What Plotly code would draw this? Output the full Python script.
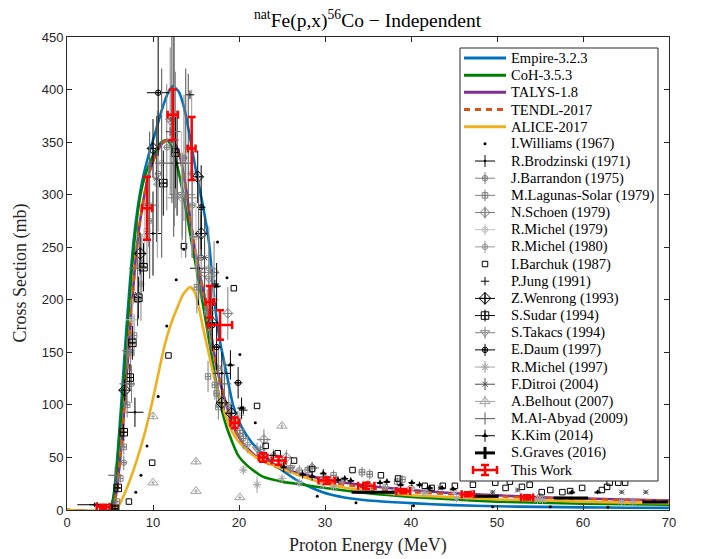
import plotly.graph_objects as go

INK = "#262626"
GREY = "#808080"
LIGHT = "#bfbfbf"
DARK = "#4d4d4d"

# ---------------- model calculations (E in MeV, sigma in mb) ----------------
E_empire = [0, 4.8, 5.3, 5.8, 6.3, 6.8, 7.3, 7.8, 8.3, 8.8, 9.5, 10.3, 11.0, 11.7, 12.3,
            13.0, 13.7, 14.4, 15.1, 15.8, 16.5, 17.2, 17.8, 18.6, 19.3, 20.3, 21.5, 22.7,
            24.0, 25.5, 27.0, 28.5, 30.5, 33.0, 36.0, 40.0, 45.0, 50.0, 55.0, 60.0, 65.0, 70.0]
S_empire = [0, 0, 8, 45, 100, 160, 215, 260, 292, 315, 338, 360, 380, 396, 403,
            398, 380, 350, 318, 290, 255, 195, 160, 128, 100, 79, 64, 54,
            44, 35, 27, 21, 15, 11, 8.5, 6.5, 4.6, 3.5, 3.0, 2.5, 2.2, 2.0]

E_coh = [0, 5.0, 5.3, 5.6, 6.0, 6.5, 7.0, 7.5, 8.0, 8.5, 9.0, 9.6, 10.3, 11.0, 11.6,
         12.2, 12.8, 13.4, 14.0, 14.7, 15.5, 16.3, 17.2, 17.8, 18.6, 19.9, 21.0, 22.7,
         25.0, 27.5, 30.0, 35.0, 40.0, 45.0, 50.0, 55.0, 60.0, 65.0, 70.0]
S_coh = [0, 0, 8, 22, 60, 110, 170, 225, 268, 298, 316, 330, 342, 350, 352,
         345, 328, 305, 278, 245, 210, 172, 128, 102, 78, 52, 42, 32,
         27, 24, 21, 16, 12.5, 10, 8, 7, 6, 5.5, 5]

E_talys = [0, 5.2, 5.5, 5.8, 6.2, 6.6, 7.0, 7.5, 8.0, 8.5, 9.0, 9.6, 10.3, 11.0, 11.7,
           12.4, 13.0, 13.6, 14.2, 14.8, 15.5, 16.3, 17.4, 18.6, 19.5, 20.5, 22.0, 24.0,
           26.0, 28.0, 30.0, 35.0, 40.0, 45.0, 50.0, 55.0, 60.0, 65.0, 70.0]
S_talys = [0, 0, 6, 20, 50, 90, 135, 190, 240, 275, 300, 322, 338, 348, 352,
           350, 340, 318, 285, 252, 222, 190, 136, 98, 77, 63, 51, 43,
           37, 33, 29, 23, 19, 16, 14, 12, 11, 10, 9]

E_tendl = [0, 5.2, 5.5, 5.8, 6.2, 6.6, 7.0, 7.5, 8.0, 8.5, 9.0, 9.6, 10.3, 11.0, 11.7,
           12.4, 13.0, 13.6, 14.2, 14.8, 15.5, 16.3, 17.4, 18.6, 19.5, 20.5, 22.0, 24.0,
           26.0, 28.0, 30.0, 35.0, 40.0, 45.0, 50.0, 55.0, 60.0, 65.0, 70.0]
S_tendl = [0, 0, 6, 20, 50, 90, 135, 190, 240, 275, 300, 322, 338, 348, 352,
           350, 340, 318, 285, 252, 222, 190, 136, 98, 76, 62, 50, 42,
           36, 31, 27, 21, 17, 15, 13, 11.5, 10.5, 9.5, 9]

E_alice = [0, 5.5, 6.0, 6.5, 7.3, 8.1, 9.0, 9.7, 10.5, 11.3, 12.0, 12.8, 13.5, 14.3,
           14.8, 15.2, 15.8, 16.4, 17.0, 18.1, 19.3, 20.5, 22.0, 24.5, 27.0, 30.0,
           35.0, 40.0, 45.0, 50.0, 55.0, 60.0, 65.0, 70.0]
S_alice = [0, 0, 4, 12, 28, 47, 72, 95, 125, 155, 175, 192, 205, 212,
           208, 198, 174, 152, 130, 98, 73, 60, 50, 41, 33, 25,
           18, 14, 12, 10, 9, 8, 7, 6.5]

# ---------------- experimental data ----------------
E_williams = [8.0, 8.6, 9.3, 10.6, 11.6, 12.7, 13.6, 17.5, 18.6, 20.1, 21.9, 29.1, 33.6,
              40.3, 49.5, 56.2, 62.9]
S_williams = [17, 33, 61, 108, 175, 219, 248, 255, 221, 148, 83, 13, 7, 4, 3, 3, 2.5]

E_brodz = [3.2, 7.9, 10.0, 12.8, 15.3, 18.0]
S_brodz = [5, 93, 263, 330, 230, 130]
dE_brodz = [2.0, 1.0, 1.0, 1.0, 1.0, 1.0]
dS_brodz = [2, 14, 40, 50, 35, 20]

E_barr = [6.6, 7.5, 8.6, 9.6, 10.6, 11.6, 12.6, 13.6, 14.6, 15.6, 16.6, 17.6, 18.8,
          20.5, 23.0, 26.0, 30.0, 35.0, 40.0]
S_barr = [45, 120, 215, 275, 320, 345, 352, 335, 290, 240, 180, 135, 100, 68, 52, 40,
          31, 25, 21]
dE_barr = [0.4, 0.4, 0.4, 0.4, 0.4, 0.4, 0.4, 0.4, 0.4, 0.4, 0.4, 0.4, 0.4, 0.4, 0.5,
           0.5, 0.5, 0.5, 0.5]
dS_barr = [7, 18, 35, 45, 55, 60, 65, 60, 50, 40, 28, 20, 15, 10, 7, 5, 4, 3, 3]

E_lagunas = [5.8, 6.2, 6.6, 7.0, 7.4, 7.8, 8.2, 8.7, 9.3, 15.1, 16.3, 16.4, 17.2, 17.4,
             17.6, 19.2, 20.1, 22.5, 25.0, 28.0, 31.0, 34.3, 35.2, 38.4, 39.0]
S_lagunas = [8, 30, 60, 100, 150, 166, 200, 235, 265, 212, 188, 127, 119, 111, 98, 86,
             73, 55, 45, 38, 33, 36, 34, 27, 29]
dE_lagunas = [0.3, 0.3, 0.3, 0.3, 0.3, 0.3, 0.3, 0.3, 0.3, 0.3, 0.3, 0.3, 0.3, 0.3,
              0.3, 0.3, 0.3, 0.4, 0.4, 0.4, 0.4, 0.4, 0.4, 0.4, 0.4]
dS_lagunas = [1, 4, 7, 12, 18, 20, 24, 28, 32, 25, 22, 15, 14, 13, 12, 10, 9, 7, 6, 5,
              5, 5, 5, 4, 4]

E_schoen = [13.4, 16.0, 17.1, 18.7, 22.9, 25.5, 28.5]
S_schoen = [297, 226, 226, 187, 67, 50, 40]
dE_schoen = [1.7, 0.6, 0.6, 0.6, 0.8, 0.8, 0.8]
dS_schoen = [40, 30, 30, 25, 10, 7, 6]

E_michel79 = [7.6, 9.0, 11.0, 13.3, 15.0, 17.0, 20.0, 25.0, 30.0, 35.0, 40.0, 45.0]
S_michel79 = [181, 260, 330, 300, 260, 200, 90, 45, 30, 24, 20, 18]
dE_michel79 = [0.8, 0.7, 0.7, 0.7, 0.7, 0.7, 0.7, 0.7, 0.7, 0.7, 0.7, 0.7]
dS_michel79 = [20, 30, 60, 60, 35, 25, 10, 5, 4, 3, 3, 2]

E_michel80 = [8.5, 10.5, 12.5, 14.5, 16.5, 21.0, 24.0, 27.0, 32.0, 37.0, 42.0, 47.0, 55.0]
S_michel80 = [230, 310, 360, 320, 230, 62, 52, 38, 28, 22, 19, 16, 13]
dE_michel80 = [0.5, 0.5, 0.5, 0.5, 0.5, 0.5, 0.5, 0.5, 0.5, 0.5, 0.5, 0.5, 0.5]
dS_michel80 = [30, 70, 90, 80, 40, 8, 6, 5, 4, 3, 3, 2, 2]

E_barchuk = [5.6, 7.2, 9.9, 11.8, 13.6, 19.4, 22.1, 23.1, 24.5, 26.4, 28.5, 33.2, 36.5,
             38.5, 41.6, 42.4, 43.7, 45.1, 47.2, 49.8, 51.0, 51.5, 52.9, 53.8, 55.2,
             56.2, 57.6, 58.5, 59.9, 62.2, 62.8, 63.1, 64.1, 64.9]
S_barchuk = [1, 8, 45, 147, 251, 211, 99, 61, 54, 47, 39, 38, 33, 30, 23, 21, 23, 23,
             24, 26, 21, 27, 22, 24, 17, 19, 17, 18, 21, 19, 22, 26, 26, 26]

E_jung = [12.0, 14.3, 17.2, 20.5, 24.0]
S_jung = [360, 395, 215, 95, 52]

E_wenrong = [6.7, 8.5, 10.0, 15.2, 15.6, 16.9, 18.0, 19.1]
S_wenrong = [114, 244, 344, 317, 263, 178, 102, 92]
dE_wenrong = [0.3, 0.3, 0.3, 0.3, 0.3, 0.3, 0.3, 0.3]
dS_wenrong = [10, 20, 28, 25, 21, 15, 9, 8]

E_sudar = [5.6, 5.9, 6.6, 7.3, 7.6, 8.3, 8.9, 11.2, 12.6]
S_sudar = [1, 21, 74, 126, 159, 202, 231, 311, 340]
dE_sudar = [0.3, 0.3, 0.3, 0.3, 0.3, 0.3, 0.3, 0.3, 0.3]
dS_sudar = [0.3, 3, 8, 13, 16, 20, 23, 31, 34]

E_takacs = [7.0, 9.5, 12.0, 13.4, 16.5, 19.8, 22.1, 26.0, 30.0]
S_takacs = [150, 290, 370, 300, 220, 85, 58, 40, 30]
dE_takacs = [0.4, 0.4, 0.4, 1.5, 0.4, 0.4, 0.4, 0.4, 0.4]
dS_takacs = [15, 40, 70, 40, 25, 9, 6, 4, 3]

E_daum = [10.6, 15.6, 16.9, 17.4, 19.9]
S_daum = [397, 288, 176, 155, 121]
dE_daum = [1.3, 0.5, 0.5, 0.5, 0.5]
dS_daum = [60, 40, 25, 22, 15]

E_michel97 = [20.5, 22.1, 25.0, 27.0, 29.8, 31.0, 35.0, 38.0, 41.5, 45.3, 46.5, 54.7,
              55.3, 64.5, 65.8]
S_michel97 = [38, 24, 30, 26, 24, 22, 19, 17, 16, 11, 13, 9.5, 9.5, 8, 8]
dE_michel97 = [0.3, 0.3, 0.3, 0.3, 0.3, 0.3, 0.3, 0.3, 0.3, 0.3, 0.3, 0.3, 0.3, 0.3, 0.3]
dS_michel97 = [4, 8, 3, 3, 3, 2, 2, 2, 2, 1, 1, 1, 1, 1, 1]

E_ditroi = [8.2, 10.4, 12.2, 14.1, 16.0, 43.4, 49.5, 52.4, 64.5, 67.3]
S_ditroi = [205, 315, 372, 345, 240, 21, 17, 19, 17, 17]
dE_ditroi = [0.4, 0.4, 0.4, 0.4, 0.4, 0.3, 0.3, 0.3, 0.3, 0.3]
dS_ditroi = [30, 60, 80, 70, 40, 2, 2, 2, 2, 2]

E_belhout = [10.0, 10.0, 15.0, 15.0, 20.1, 25.0]
S_belhout = [89, 26, 46, 18, 12, 80]
dE_belhout = [0.2, 0.2, 0.2, 0.2, 0.2, 0.2]
dS_belhout = [3, 2, 3, 2, 2, 3]

E_alabyad = [5.6, 6.9, 8.2, 9.6, 11.0, 12.4, 13.8, 15.3, 16.8, 18.3]
S_alabyad = [33, 120, 230, 290, 330, 360, 330, 260, 190, 120]
dE_alabyad = [0.8, 0.8, 1.0, 0.8, 0.8, 0.8, 0.8, 0.8, 0.8, 0.8]
dS_alabyad = [8, 20, 45, 70, 90, 100, 90, 60, 40, 25]

E_kim = [3.5, 17.4, 19.0, 20.3, 25.2, 27.4, 28.5, 29.8, 31.5, 32.3, 33.0, 34.4, 36.4,
         37.2, 38.8, 40.1, 41.0, 42.2, 43.6, 44.9, 58.7, 61.7]
S_kim = [5, 213, 138, 97, 41, 34, 32, 35, 29, 30, 28, 23, 26, 27, 24, 26, 24, 21, 21,
         20, 17, 17]
dE_kim = [0.9, 0.5, 0.5, 0.5, 0.4, 0.4, 0.4, 0.4, 0.4, 0.4, 0.4, 0.4, 0.4, 0.4, 0.4,
          0.4, 0.4, 0.4, 0.4, 0.4, 0.4, 0.4]
dS_kim = [2, 22, 14, 10, 5, 4, 4, 4, 3, 3, 3, 3, 3, 3, 3, 3, 3, 2, 2, 2, 2, 2]

E_graves = [35.6, 48.8, 58.6, 68.4]
S_graves = [17, 13, 11.5, 7.6]
dE_graves = [2.5, 1.4, 2.0, 1.5]
dS_graves = [1.5, 1.0, 1.0, 1.0]

E_this = [4.2, 9.3, 12.3, 14.5, 16.6, 17.8, 19.5, 22.8, 24.6, 30.2, 34.8, 39.1, 46.6, 53.5]
S_this = [3, 287, 376, 344, 198, 176, 83, 50, 47, 28, 23, 18, 15, 12]
dE_this = [0.75, 0.6, 0.6, 0.45, 0.5, 1.4, 0.5, 0.5, 0.8, 0.95, 0.95, 0.8, 0.7, 0.7]
dS_this = [2, 30, 24, 30, 15, 14, 5, 4, 4, 3, 3, 2, 2, 2]

models = [
    ("Empire-3.2.3", E_empire, S_empire, "#0072BD", "solid"),
    ("CoH-3.5.3", E_coh, S_coh, "#008000", "solid"),
    ("TALYS-1.8", E_talys, S_talys, "#7E2F8E", "solid"),
    ("TENDL-2017", E_tendl, S_tendl, "#D95319", "6px,5px"),
    ("ALICE-2017", E_alice, S_alice, "#EDB120", "solid"),
]

# name, E, S, dE, dS, symbol, size, colour, bar colour, bar thickness, cap
datasets = [
    ("I.Williams (1967)", E_williams, S_williams, None, None, "circle", 3, "black", None, 1, 0),
    ("R.Brodzinski (1971)", E_brodz, S_brodz, dE_brodz, dS_brodz, "circle", 2.5, "black", "black", 1, 0),
    ("J.Barrandon (1975)", E_barr, S_barr, dE_barr, dS_barr, "circle-cross-open", 5.5, GREY, GREY, 1, 0),
    ("M.Lagunas-Solar (1979)", E_lagunas, S_lagunas, dE_lagunas, dS_lagunas, "square-cross-open", 5.5, GREY, GREY, 1, 0),
    ("N.Schoen (1979)", E_schoen, S_schoen, dE_schoen, dS_schoen, "diamond-cross-open", 7.5, GREY, GREY, 1, 0),
    ("R.Michel (1979)", E_michel79, S_michel79, dE_michel79, dS_michel79, "circle-cross-open", 5.5, LIGHT, LIGHT, 1, 0),
    ("R.Michel (1980)", E_michel80, S_michel80, dE_michel80, dS_michel80, "circle-cross-open", 5.5, "#999999", "#999999", 1, 0),
    ("I.Barchuk (1987)", E_barchuk, S_barchuk, None, None, "square-open", 5.5, "black", None, 1, 0),
    ("P.Jung (1991)", E_jung, S_jung, None, None, "cross-thin-open", 6, "black", None, 1, 0),
    ("Z.Wenrong (1993)", E_wenrong, S_wenrong, dE_wenrong, dS_wenrong, "diamond-cross-open", 9, "black", "black", 1, 0),
    ("S.Sudar (1994)", E_sudar, S_sudar, dE_sudar, dS_sudar, "square-cross-open", 7.5, "black", "black", 1, 0),
    ("S.Takacs (1994)", E_takacs, S_takacs, dE_takacs, dS_takacs, "triangle-down-open", 8, GREY, GREY, 1, 0),
    ("E.Daum (1997)", E_daum, S_daum, dE_daum, dS_daum, "circle-cross-open", 5.5, "black", "black", 1, 0),
    ("R.Michel (1997)", E_michel97, S_michel97, dE_michel97, dS_michel97, "asterisk-open", 7, "#a6a6a6", "#a6a6a6", 1, 0),
    ("F.Ditroi (2004)", E_ditroi, S_ditroi, dE_ditroi, dS_ditroi, "x-thin-open", 5, DARK, DARK, 1, 0),
    ("A.Belhout (2007)", E_belhout, S_belhout, dE_belhout, dS_belhout, "triangle-up-open", 9, "#a0a0a0", "#a0a0a0", 1, 0),
    ("M.Al-Abyad (2009)", E_alabyad, S_alabyad, dE_alabyad, dS_alabyad, None, 0, "#6e6e6e", "#6e6e6e", 1.2, 0),
    ("K.Kim (2014)", E_kim, S_kim, dE_kim, dS_kim, "triangle-up", 5.5, "black", "black", 1, 0),
    ("S.Graves (2016)", E_graves, S_graves, dE_graves, dS_graves, None, 0, "black", "black", 3, 0),
    ("This Work", E_this, S_this, dE_this, dS_this, None, 0, "red", "red", 2.5, 4),
]


def marker_for(symbol, size, colour):
    if symbol is None:
        return dict(size=1, color=colour, opacity=0)
    thin = symbol.endswith("-open")
    return dict(symbol=symbol, size=size, color=colour,
                line=dict(color=colour, width=1 if thin else 0))


fig = go.Figure()

# model curves
for name, E, S, col, dash in models:
    fig.add_trace(go.Scatter(x=E, y=S, mode="lines", name=name, showlegend=False,
                             line=dict(color=col, width=2.6, dash=dash, shape="spline", smoothing=0.6),
                             hoverinfo="skip"))

# measurements
for name, E, S, dE, dS, sym, size, col, bcol, bth, cap in datasets:
    tr = dict(x=E, y=S, mode="markers", name=name, showlegend=False,
              marker=marker_for(sym, size, col), hoverinfo="skip", cliponaxis=True)
    if dS is not None:
        tr["error_y"] = dict(type="data", array=dS, color=bcol, thickness=bth, width=cap)
        tr["error_x"] = dict(type="data", array=dE, color=bcol, thickness=bth, width=cap)
    fig.add_trace(go.Scatter(**tr))

# ---------------- legend panel (pixel coordinates inside the plot area) ----------------
PW, PH = 602, 473
box_l, box_r, box_b, box_t = 393, 591, 29, 462
row0, row_step = 452, 17.17
key_l, key_r, key_c, text_x = 397, 439, 418, 442

fig.add_trace(go.Scatter(x=[box_l, box_r, box_r, box_l, box_l], y=[box_b, box_b, box_t, box_t, box_b],
                         mode="lines", fill="toself", fillcolor="white",
                         line=dict(color=INK, width=1), xaxis="x2", yaxis="y2",
                         showlegend=False, hoverinfo="skip"))

legend_rows = [m[0] for m in models] + [d[0] for d in datasets]
for i, (name, E, S, col, dash) in enumerate(models):
    yy = row0 - i * row_step
    fig.add_trace(go.Scatter(x=[key_l, key_r], y=[yy, yy], mode="lines", xaxis="x2", yaxis="y2",
                             line=dict(color=col, width=3, dash=dash), showlegend=False, hoverinfo="skip"))
for j, (name, E, S, dE, dS, sym, size, col, bcol, bth, cap) in enumerate(datasets):
    yy = row0 - (len(models) + j) * row_step
    tr = dict(x=[key_c], y=[yy], mode="markers", xaxis="x2", yaxis="y2",
              marker=marker_for(sym, size, col), showlegend=False, hoverinfo="skip")
    if dS is not None:
        half_w = 12 if name == "This Work" else 10
        half_h = 5 if name == "This Work" else 6
        tr["error_x"] = dict(type="data", array=[half_w], color=bcol, thickness=bth, width=cap)
        tr["error_y"] = dict(type="data", array=[half_h], color=bcol, thickness=bth, width=cap)
    fig.add_trace(go.Scatter(**tr))

annotations = []
for i, label in enumerate(legend_rows):
    annotations.append(dict(x=text_x, y=row0 - i * row_step, xref="x2", yref="y2", text=label,
                            showarrow=False, xanchor="left", yanchor="middle",
                            font=dict(family="Liberation Serif", size=14.5, color="black")))

annotations += [
    dict(x=0.5, y=1.036, xref="paper", yref="paper", showarrow=False, xanchor="center", yanchor="middle",
         text="<sup>nat</sup>Fe(p,x)<sup>56</sup>Co \u2212 Independent",
         font=dict(family="Liberation Serif", size=19.5, color="black")),
    dict(x=0.5, y=-0.074, xref="paper", yref="paper", showarrow=False, xanchor="center", yanchor="middle",
         text="Proton Energy (MeV)", font=dict(family="Liberation Serif", size=18, color=INK)),
    dict(x=-0.078, y=0.5, xref="paper", yref="paper", showarrow=False, xanchor="center", yanchor="middle",
         text="Cross Section (mb)", textangle=-90,
         font=dict(family="Liberation Serif", size=18, color=INK)),
]

axis_common = dict(showgrid=False, zeroline=False, showline=True, linecolor=INK, linewidth=1,
                   mirror="ticks", ticks="inside", ticklen=5, tickcolor=INK, tickwidth=1,
                   tickfont=dict(family="Liberation Sans", size=13, color=INK), automargin=False)

fig.update_layout(
    width=701, height=559,
    margin=dict(l=67, r=32, t=37, b=49),
    paper_bgcolor="white", plot_bgcolor="white",
    showlegend=False,
    xaxis=dict(range=[0, 70], tickvals=[0, 10, 20, 30, 40, 50, 60, 70], **axis_common),
    yaxis=dict(range=[0, 450], tickvals=[0, 50, 100, 150, 200, 250, 300, 350, 400, 450], **axis_common),
    xaxis2=dict(range=[0, PW], overlaying="x", anchor="y2", visible=False, fixedrange=True),
    yaxis2=dict(range=[0, PH], overlaying="y", anchor="x2", visible=False, fixedrange=True),
    annotations=annotations,
)

fig.write_html("out.html")
